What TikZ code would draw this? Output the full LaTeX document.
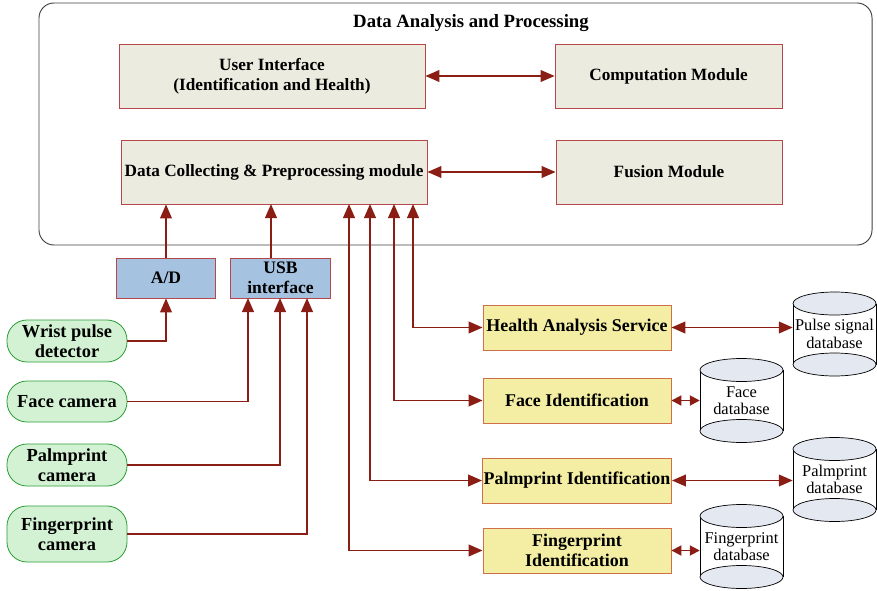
\documentclass[tikz,border=0pt]{standalone}
\usepackage{fontspec}
\setmainfont{Liberation Serif}
\usepackage{tikz}
\usetikzlibrary{arrows.meta,calc}

\definecolor{linkred}{HTML}{8B1E14}
\definecolor{boxred}{HTML}{B5474A}
\definecolor{modfill}{HTML}{EBEBDF}
\definecolor{ifill}{HTML}{A5C3E1}
\definecolor{camfill}{HTML}{D3F2D3}
\definecolor{camline}{HTML}{2E9E3A}
\definecolor{svcfill}{HTML}{F3EEA3}
\definecolor{svcline}{HTML}{D0704A}
\definecolor{dbend}{HTML}{E4E8F1}

\tikzset{
  module/.style={draw=boxred,fill=modfill,line width=0.7pt,minimum height=1.92cm,align=center,
    font=\bfseries\fontsize{14.7}{17}\selectfont},
  iface/.style={draw=boxred,fill=ifill,line width=0.7pt,minimum width=2.98cm,minimum height=1.2cm,
    align=center,inner sep=1pt,font=\bfseries\fontsize{15}{17}\selectfont},
  camera/.style={draw=camline,fill=camfill,line width=0.7pt,rounded corners=0.6cm,minimum width=3.6cm,
    align=center,inner sep=1pt,font=\bfseries\fontsize{15.7}{17}\selectfont},
  service/.style={draw=svcline,fill=svcfill,line width=0.7pt,minimum width=5.64cm,minimum height=1.35cm,
    align=center,inner sep=1pt,font=\bfseries\fontsize{15.3}{17}\selectfont},
  dbtext/.style={minimum width=2.49cm,minimum height=2.52cm,inner sep=0pt,align=center,
    font=\fontsize{14}{15}\selectfont},
  link/.style={draw=linkred,line width=1.6pt,arrows={-Triangle[length=0.42cm,width=0.35cm]}},
  dlink/.style={link,arrows={Triangle[length=0.42cm,width=0.35cm]-Triangle[length=0.42cm,width=0.35cm]}},
  slink/.style={link,arrows={Triangle[length=0.3cm,width=0.3cm]-Triangle[length=0.3cm,width=0.3cm]}}
}

% drum shaped data store: name, centre, text
\newcommand{\dbdrum}[3]{%
  \begin{scope}[shift={(#2)}]
    \fill[white] (-41.5,-30.5) rectangle (41.5,30.5);
    \draw[line width=0.6pt] (-41.5,-30.5) -- (-41.5,30.5) (41.5,-30.5) -- (41.5,30.5);
    \draw[line width=0.6pt,fill=dbend] (0,30.5) ellipse [x radius=41.5,y radius=11.5];
    \draw[line width=0.6pt,fill=dbend] (0,-30.5) ellipse [x radius=41.5,y radius=11.5];
  \end{scope}
  \node[dbtext] (#1) at (#2) {#3};}

\begin{document}
\begin{tikzpicture}[x=0.03cm,y=-0.03cm]
\useasboundingbox (0,0) rectangle (877,590);

% processing unit
\node[draw=black!75,line width=0.8pt,rounded corners=0.45cm,minimum width=24.99cm,minimum height=7.26cm]
  (dap) at (455.5,124) {};
\node[font=\bfseries\fontsize{16}{17}\selectfont] (title) at (471,23) {Data Analysis and Processing};

\node[module,minimum width=9.18cm] (ui) at (272,76) {User Interface\\(Identification and Health)};
\node[module,minimum width=6.81cm] (comp) at (668.5,76) {Computation Module};
\node[module,minimum width=9.18cm,inner sep=1pt] (dc) at (274,172) {Data Collecting \& Preprocessing module};
\node[module,minimum width=6.78cm] (fus) at (669,172) {Fusion Module};

% acquisition
\node[iface] (ad) at (166,278) {A/D};
\node[iface] (usb) at (280.5,278) {USB\\interface};

\node[camera,minimum height=1.26cm] (wrist) at (67,341) {Wrist pulse\\detector};
\node[camera,minimum height=1.23cm] (facecam) at (67,401.5) {Face camera};
\node[camera,minimum height=1.26cm] (palmcam) at (67,465) {Palmprint\\camera};
\node[camera,minimum height=1.68cm] (fingcam) at (67,534) {Fingerprint\\camera};

% services
\node[service] (has) at (577,327.5) {Health Analysis Service};
\node[service] (faceid) at (577,400.5) {Face Identification};
\node[service] (palmid) at (577,480.5) {Palmprint Identification};
\node[service] (fingid) at (577,550.5) {Fingerprint\\Identification};

% data stores
\dbdrum{pdb}{834.5,334}{Pulse signal\\database}
\dbdrum{fdb}{741.5,400.5}{Face\\database}
\dbdrum{pmdb}{834.5,479.5}{Palmprint\\database}
\dbdrum{fpdb}{741.5,546.5}{Fingerprint\\database}

% ports
\coordinate (dcIn) at (271,204);
\coordinate (dcA) at (413,204);
\coordinate (dcB) at (394,204);
\coordinate (dcC) at (370,204);
\coordinate (dcD) at (349,204);
\coordinate (usbA) at (248,298);
\coordinate (usbB) at (280,298);
\coordinate (usbC) at (307,298);

% connectors
\draw[dlink] (ui.east) -- (comp.west);
\draw[dlink] (dc.east) -- (fus.west);
\draw[link] (ad.north) -- (ad.north |- dc.south);
\draw[link] (usb.north -| dcIn) -- (dcIn);

\draw[link] (wrist.east) -| (ad.south);
\draw[link] (facecam.east) -| (usbA);
\draw[link] (palmcam.east) -| (usbB);
\draw[link] (fingcam.east) -| (usbC);

\draw[dlink] (dcA) |- (has.west);
\draw[dlink] (dcB) |- (faceid.west);
\draw[dlink] (dcC) |- (palmid.west);
\draw[dlink] (dcD) |- (fingid.west);

\draw[dlink] (has.east) -- (has.east -| pdb.west);
\draw[slink] (faceid.east) -- (faceid.east -| fdb.west);
\draw[dlink] (palmid.east) -- (palmid.east -| pmdb.west);
\draw[slink] (fingid.east) -- (fingid.east -| fpdb.west);
\end{tikzpicture}
\end{document}
